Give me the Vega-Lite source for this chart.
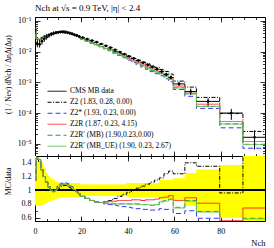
{
"$schema":"https://vega.github.io/schema/vega-lite/v6.json",
"padding":{"left":3,"top":3,"right":5,"bottom":3},
"spacing":0,
"bounds":"flush",
"config":{
 "font":"Liberation Serif",
 "view":{"stroke":"#000","strokeWidth":1},
 "axis":{"domain":false,"grid":false,"tickColor":"#000","labelColor":"#000","titleColor":"#000","labelFontSize":8,"titleFontSize":8,"titleFontWeight":"normal","tickWidth":0.8,"labelFlush":false},
 "legend":{"labelFontSize":7.5,"labelColor":"#000","symbolType":"stroke","symbolSize":361,"rowPadding":0,"clipHeight":10.5,"labelOffset":3,"padding":0}
},
"resolve":{"scale":{"color":"independent","strokeDash":"independent","strokeWidth":"independent"}},
"datasets":{
"main":[
{"lo":-0.5,"hi":0.5,"x":0,"d":0.0513,"dlo":0.04,"dhi":0.0821,"z2":0.059,"z2s":0.059,"z2r":0.059,"mb":0.059,"mbue":0.059},
{"lo":0.5,"hi":1.5,"x":1,"d":0.01778,"dlo":0.01387,"dhi":0.02525,"z2":0.02578,"z2s":0.02614,"z2r":0.02614,"mb":0.02614,"mbue":0.02614},
{"lo":1.5,"hi":2.5,"x":2,"d":0.01738,"dlo":0.01356,"dhi":0.02468,"z2":0.02468,"z2s":0.0252,"z2r":0.0252,"mb":0.0252,"mbue":0.0252},
{"lo":2.5,"hi":3.5,"x":3,"d":0.02188,"dlo":0.01707,"dhi":0.03063,"z2":0.02844,"z2s":0.02844,"z2r":0.02844,"mb":0.02844,"mbue":0.02844},
{"lo":3.5,"hi":4.5,"x":4,"d":0.0263,"dlo":0.02104,"dhi":0.03472,"z2":0.03156,"z2s":0.03156,"z2r":0.03156,"mb":0.03156,"mbue":0.03156},
{"lo":4.5,"hi":5.5,"x":5,"d":0.0302,"dlo":0.02476,"dhi":0.03775,"z2":0.03382,"z2s":0.03382,"z2r":0.03382,"mb":0.03382,"mbue":0.03382},
{"lo":5.5,"hi":6.5,"x":6,"d":0.03388,"dlo":0.02846,"dhi":0.04066,"z2":0.03557,"z2s":0.03557,"z2r":0.03557,"mb":0.03557,"mbue":0.03557},
{"lo":6.5,"hi":7.5,"x":7,"d":0.03715,"dlo":0.03158,"dhi":0.04347,"z2":0.03715,"z2s":0.03715,"z2r":0.03715,"mb":0.03715,"mbue":0.03715},
{"lo":7.5,"hi":8.5,"x":8,"d":0.03981,"dlo":0.03424,"dhi":0.04578,"z2":0.03901,"z2s":0.03901,"z2r":0.03901,"mb":0.03901,"mbue":0.03901},
{"lo":8.5,"hi":9.5,"x":9,"d":0.04169,"dlo":0.03669,"dhi":0.04669,"z2":0.04169,"z2s":0.04169,"z2r":0.04169,"mb":0.04169,"mbue":0.04169},
{"lo":9.5,"hi":10.5,"x":10,"d":0.04266,"dlo":0.03797,"dhi":0.04735,"z2":0.04351,"z2s":0.04522,"z2r":0.04437,"mb":0.04437,"mbue":0.04437},
{"lo":10.5,"hi":11.5,"x":11,"d":0.04365,"dlo":0.03929,"dhi":0.04802,"z2":0.04583,"z2s":0.04758,"z2r":0.04671,"mb":0.04671,"mbue":0.04671},
{"lo":11.5,"hi":12.5,"x":12,"d":0.04365,"dlo":0.03929,"dhi":0.04802,"z2":0.04671,"z2s":0.04845,"z2r":0.04758,"mb":0.04758,"mbue":0.04758},
{"lo":12.5,"hi":13.5,"x":13,"d":0.04266,"dlo":0.03839,"dhi":0.04693,"z2":0.04565,"z2s":0.04735,"z2r":0.0465,"mb":0.0465,"mbue":0.0465},
{"lo":13.5,"hi":14.5,"x":14,"d":0.04169,"dlo":0.03752,"dhi":0.04586,"z2":0.04419,"z2s":0.04586,"z2r":0.04503,"mb":0.04503,"mbue":0.04503},
{"lo":14.5,"hi":15.5,"x":15,"d":0.03981,"dlo":0.03583,"dhi":0.04379,"z2":0.0414,"z2s":0.04299,"z2r":0.0422,"mb":0.0422,"mbue":0.0422},
{"lo":15.5,"hi":16.5,"x":16,"d":0.03802,"dlo":0.03422,"dhi":0.04182,"z2":0.03878,"z2s":0.03992,"z2r":0.03954,"mb":0.03954,"mbue":0.03954},
{"lo":16.5,"hi":17.5,"x":17,"d":0.03548,"dlo":0.03193,"dhi":0.03903,"z2":0.03583,"z2s":0.03583,"z2r":0.03583,"mb":0.03583,"mbue":0.03583},
{"lo":17.5,"hi":18.5,"x":18,"d":0.03388,"dlo":0.03049,"dhi":0.03727,"z2":0.0332,"z2s":0.0332,"z2r":0.0332,"mb":0.0332,"mbue":0.0332},
{"lo":18.5,"hi":19.5,"x":19,"d":0.03162,"dlo":0.02846,"dhi":0.03478,"z2":0.03004,"z2s":0.03004,"z2r":0.03004,"mb":0.03004,"mbue":0.03004},
{"lo":19.5,"hi":21.5,"x":20.5,"d":0.02884,"dlo":0.02653,"dhi":0.03115,"z2":0.02624,"z2s":0.02624,"z2r":0.02624,"mb":0.02624,"mbue":0.02624},
{"lo":21.5,"hi":23.5,"x":22.5,"d":0.0257,"dlo":0.02364,"dhi":0.02776,"z2":0.02262,"z2s":0.02262,"z2r":0.02262,"mb":0.02262,"mbue":0.02262},
{"lo":23.5,"hi":25.5,"x":24.5,"d":0.02291,"dlo":0.02108,"dhi":0.02474,"z2":0.01947,"z2s":0.01947,"z2r":0.01947,"mb":0.01947,"mbue":0.01947},
{"lo":25.5,"hi":27.5,"x":26.5,"d":0.02042,"dlo":0.01879,"dhi":0.02205,"z2":0.01695,"z2s":0.01695,"z2r":0.01695,"mb":0.01695,"mbue":0.01695},
{"lo":27.5,"hi":29.5,"x":28.5,"d":0.01778,"dlo":0.01636,"dhi":0.0192,"z2":0.01458,"z2s":0.01458,"z2r":0.01458,"mb":0.01458,"mbue":0.01458},
{"lo":29.5,"hi":31.5,"x":30.5,"d":0.01549,"dlo":0.01425,"dhi":0.01673,"z2":0.01286,"z2s":0.01239,"z2r":0.01286,"mb":0.01255,"mbue":0.01255},
{"lo":31.5,"hi":33.5,"x":32.5,"d":0.01349,"dlo":0.01241,"dhi":0.01457,"z2":0.01147,"z2s":0.01066,"z2r":0.01133,"mb":0.01093,"mbue":0.01093},
{"lo":33.5,"hi":35.5,"x":34.5,"d":0.01148,"dlo":0.01056,"dhi":0.0124,"z2":0.0101,"z2s":0.00895,"z2r":0.00964,"mb":0.00918,"mbue":0.00918},
{"lo":35.5,"hi":37.5,"x":36.5,"d":0.00977,"dlo":0.00899,"dhi":0.01055,"z2":0.00889,"z2s":0.00752,"z2r":0.0083,"mb":0.00782,"mbue":0.00782},
{"lo":37.5,"hi":39.5,"x":38.5,"d":0.00832,"dlo":0.00765,"dhi":0.00899,"z2":0.00782,"z2s":0.00632,"z2r":0.00707,"mb":0.00666,"mbue":0.00666},
{"lo":39.5,"hi":41.5,"x":40.5,"d":0.00708,"dlo":0.00637,"dhi":0.00779,"z2":0.00687,"z2s":0.00531,"z2r":0.00602,"mb":0.00566,"mbue":0.00566},
{"lo":41.5,"hi":43.5,"x":42.5,"d":0.00603,"dlo":0.00543,"dhi":0.00663,"z2":0.00603,"z2s":0.00446,"z2r":0.00519,"mb":0.00482,"mbue":0.00482},
{"lo":43.5,"hi":45.5,"x":44.5,"d":0.00513,"dlo":0.00462,"dhi":0.00564,"z2":0.00528,"z2s":0.00374,"z2r":0.00441,"mb":0.0041,"mbue":0.00405},
{"lo":45.5,"hi":47.5,"x":46.5,"d":0.00437,"dlo":0.00393,"dhi":0.00481,"z2":0.00463,"z2s":0.00315,"z2r":0.00371,"mb":0.00345,"mbue":0.00345},
{"lo":47.5,"hi":49.5,"x":48.5,"d":0.00372,"dlo":0.00335,"dhi":0.00409,"z2":0.00405,"z2s":0.00268,"z2r":0.0032,"mb":0.00294,"mbue":0.00294},
{"lo":49.5,"hi":51.5,"x":50.5,"d":0.00316,"dlo":0.00284,"dhi":0.00348,"z2":0.00354,"z2s":0.00224,"z2r":0.00272,"mb":0.00246,"mbue":0.00246},
{"lo":51.5,"hi":53.5,"x":52.5,"d":0.00269,"dlo":0.00242,"dhi":0.00296,"z2":0.00309,"z2s":0.00191,"z2r":0.00234,"mb":0.00213,"mbue":0.00213},
{"lo":53.5,"hi":55.5,"x":54.5,"d":0.00224,"dlo":0.00195,"dhi":0.00258,"z2":0.00264,"z2s":0.00164,"z2r":0.00199,"mb":0.00188,"mbue":0.00186},
{"lo":55.5,"hi":57.5,"x":56.5,"d":0.00182,"dlo":0.00158,"dhi":0.00209,"z2":0.00226,"z2s":0.00131,"z2r":0.00164,"mb":0.00155,"mbue":0.00153},
{"lo":57.5,"hi":59.5,"x":58.5,"d":0.00145,"dlo":0.00126,"dhi":0.00167,"z2":0.00186,"z2s":0.00104,"z2r":0.00133,"mb":0.00126,"mbue":0.00125},
{"lo":59.5,"hi":64.5,"x":62,"d":0.000891,"dlo":0.000757,"dhi":0.001042,"z2":0.0011,"z2s":0.000588,"z2r":0.000757,"mb":0.000668,"mbue":0.000659},
{"lo":64.5,"hi":69.5,"x":67,"d":0.000501,"dlo":0.000391,"dhi":0.000626,"z2":0.000701,"z2s":0.000351,"z2r":0.000446,"mb":0.000426,"mbue":0.000421},
{"lo":69.5,"hi":79.5,"x":74.5,"d":0.00024,"dlo":0.000166,"dhi":0.000312,"z2":0.000324,"z2s":0.000142,"z2r":0.000194,"mb":0.000166,"mbue":0.000163},
{"lo":79.5,"hi":89.5,"x":84.5,"d":0.0001,"dlo":0.00006,"dhi":0.000137,"z2":0.000096,"z2s":0.000033,"z2r":0.000053,"mb":0.000044,"mbue":0.000044},
{"lo":89.5,"hi":99.5,"x":94.5,"d":0.0000162,"dlo":0.0000065,"dhi":0.0000275,"z2":0.0000251,"z2s":0.00000713,"z2r":0.0000118,"mb":0.00000956,"mbue":0.0000094},
{"lo":99.5,"z2":0.0000251,"z2s":0.00000713,"z2r":0.0000118,"mb":0.00000956,"mbue":0.0000094}
],
"ratio":[
{"lo":-0.5,"hi":0.5,"blo":0.78,"bhi":1.6,"z2":1.15,"z2s":1.15,"z2r":1.15,"mb":1.15,"mbue":1.15},
{"lo":0.5,"hi":1.5,"blo":0.78,"bhi":1.42,"z2":1.45,"z2s":1.47,"z2r":1.47,"mb":1.47,"mbue":1.47},
{"lo":1.5,"hi":2.5,"blo":0.78,"bhi":1.42,"z2":1.42,"z2s":1.45,"z2r":1.45,"mb":1.45,"mbue":1.45},
{"lo":2.5,"hi":3.5,"blo":0.78,"bhi":1.4,"z2":1.3,"z2s":1.3,"z2r":1.3,"mb":1.3,"mbue":1.3},
{"lo":3.5,"hi":4.5,"blo":0.8,"bhi":1.32,"z2":1.2,"z2s":1.2,"z2r":1.2,"mb":1.2,"mbue":1.2},
{"lo":4.5,"hi":5.5,"blo":0.82,"bhi":1.25,"z2":1.12,"z2s":1.12,"z2r":1.12,"mb":1.12,"mbue":1.12},
{"lo":5.5,"hi":6.5,"blo":0.84,"bhi":1.2,"z2":1.05,"z2s":1.05,"z2r":1.05,"mb":1.05,"mbue":1.05},
{"lo":6.5,"hi":7.5,"blo":0.85,"bhi":1.17,"z2":1.0,"z2s":1.0,"z2r":1.0,"mb":1.0,"mbue":1.0},
{"lo":7.5,"hi":8.5,"blo":0.86,"bhi":1.15,"z2":0.98,"z2s":0.98,"z2r":0.98,"mb":0.98,"mbue":0.98},
{"lo":8.5,"hi":9.5,"blo":0.88,"bhi":1.12,"z2":1.0,"z2s":1.0,"z2r":1.0,"mb":1.0,"mbue":1.0},
{"lo":9.5,"hi":10.5,"blo":0.89,"bhi":1.11,"z2":1.02,"z2s":1.06,"z2r":1.04,"mb":1.04,"mbue":1.04},
{"lo":10.5,"hi":11.5,"blo":0.9,"bhi":1.1,"z2":1.05,"z2s":1.09,"z2r":1.07,"mb":1.07,"mbue":1.07},
{"lo":11.5,"hi":12.5,"blo":0.9,"bhi":1.1,"z2":1.07,"z2s":1.11,"z2r":1.09,"mb":1.09,"mbue":1.09},
{"lo":12.5,"hi":13.5,"blo":0.9,"bhi":1.1,"z2":1.07,"z2s":1.11,"z2r":1.09,"mb":1.09,"mbue":1.09},
{"lo":13.5,"hi":14.5,"blo":0.9,"bhi":1.1,"z2":1.06,"z2s":1.1,"z2r":1.08,"mb":1.08,"mbue":1.08},
{"lo":14.5,"hi":15.5,"blo":0.9,"bhi":1.1,"z2":1.04,"z2s":1.08,"z2r":1.06,"mb":1.06,"mbue":1.06},
{"lo":15.5,"hi":16.5,"blo":0.9,"bhi":1.1,"z2":1.02,"z2s":1.05,"z2r":1.04,"mb":1.04,"mbue":1.04},
{"lo":16.5,"hi":17.5,"blo":0.9,"bhi":1.1,"z2":1.01,"z2s":1.01,"z2r":1.01,"mb":1.01,"mbue":1.01},
{"lo":17.5,"hi":18.5,"blo":0.9,"bhi":1.1,"z2":0.98,"z2s":0.98,"z2r":0.98,"mb":0.98,"mbue":0.98},
{"lo":18.5,"hi":19.5,"blo":0.9,"bhi":1.1,"z2":0.95,"z2s":0.95,"z2r":0.95,"mb":0.95,"mbue":0.95},
{"lo":19.5,"hi":21.5,"blo":0.92,"bhi":1.08,"z2":0.91,"z2s":0.91,"z2r":0.91,"mb":0.91,"mbue":0.91},
{"lo":21.5,"hi":23.5,"blo":0.92,"bhi":1.08,"z2":0.88,"z2s":0.88,"z2r":0.88,"mb":0.88,"mbue":0.88},
{"lo":23.5,"hi":25.5,"blo":0.92,"bhi":1.08,"z2":0.85,"z2s":0.85,"z2r":0.85,"mb":0.85,"mbue":0.85},
{"lo":25.5,"hi":27.5,"blo":0.92,"bhi":1.08,"z2":0.83,"z2s":0.83,"z2r":0.83,"mb":0.83,"mbue":0.83},
{"lo":27.5,"hi":29.5,"blo":0.92,"bhi":1.08,"z2":0.82,"z2s":0.82,"z2r":0.82,"mb":0.82,"mbue":0.82},
{"lo":29.5,"hi":31.5,"blo":0.92,"bhi":1.08,"z2":0.83,"z2s":0.8,"z2r":0.83,"mb":0.81,"mbue":0.81},
{"lo":31.5,"hi":33.5,"blo":0.92,"bhi":1.08,"z2":0.85,"z2s":0.79,"z2r":0.84,"mb":0.81,"mbue":0.81},
{"lo":33.5,"hi":35.5,"blo":0.92,"bhi":1.08,"z2":0.88,"z2s":0.78,"z2r":0.84,"mb":0.8,"mbue":0.8},
{"lo":35.5,"hi":37.5,"blo":0.92,"bhi":1.08,"z2":0.91,"z2s":0.77,"z2r":0.85,"mb":0.8,"mbue":0.8},
{"lo":37.5,"hi":39.5,"blo":0.92,"bhi":1.08,"z2":0.94,"z2s":0.76,"z2r":0.85,"mb":0.8,"mbue":0.8},
{"lo":39.5,"hi":41.5,"blo":0.9,"bhi":1.1,"z2":0.97,"z2s":0.75,"z2r":0.85,"mb":0.8,"mbue":0.8},
{"lo":41.5,"hi":43.5,"blo":0.9,"bhi":1.1,"z2":1.0,"z2s":0.74,"z2r":0.86,"mb":0.8,"mbue":0.8},
{"lo":43.5,"hi":45.5,"blo":0.9,"bhi":1.1,"z2":1.03,"z2s":0.73,"z2r":0.86,"mb":0.8,"mbue":0.79},
{"lo":45.5,"hi":47.5,"blo":0.9,"bhi":1.1,"z2":1.06,"z2s":0.72,"z2r":0.85,"mb":0.79,"mbue":0.79},
{"lo":47.5,"hi":49.5,"blo":0.9,"bhi":1.1,"z2":1.09,"z2s":0.72,"z2r":0.86,"mb":0.79,"mbue":0.79},
{"lo":49.5,"hi":51.5,"blo":0.9,"bhi":1.1,"z2":1.12,"z2s":0.71,"z2r":0.86,"mb":0.78,"mbue":0.78},
{"lo":51.5,"hi":53.5,"blo":0.9,"bhi":1.1,"z2":1.15,"z2s":0.71,"z2r":0.87,"mb":0.79,"mbue":0.79},
{"lo":53.5,"hi":55.5,"blo":0.87,"bhi":1.15,"z2":1.18,"z2s":0.73,"z2r":0.89,"mb":0.84,"mbue":0.83},
{"lo":55.5,"hi":57.5,"blo":0.87,"bhi":1.15,"z2":1.24,"z2s":0.72,"z2r":0.9,"mb":0.85,"mbue":0.84},
{"lo":57.5,"hi":59.5,"blo":0.87,"bhi":1.15,"z2":1.28,"z2s":0.72,"z2r":0.92,"mb":0.87,"mbue":0.86},
{"lo":59.5,"hi":64.5,"blo":0.85,"bhi":1.17,"z2":1.24,"z2s":0.66,"z2r":0.85,"mb":0.75,"mbue":0.74},
{"lo":64.5,"hi":69.5,"blo":0.78,"bhi":1.25,"z2":1.4,"z2s":0.7,"z2r":0.89,"mb":0.85,"mbue":0.84},
{"lo":69.5,"hi":79.5,"blo":0.69,"bhi":1.3,"z2":1.35,"z2s":0.59,"z2r":0.81,"mb":0.69,"mbue":0.68},
{"lo":79.5,"hi":89.5,"blo":0.6,"bhi":1.37,"z2":0.96,"z2s":0.33,"z2r":0.555,"mb":0.44,"mbue":0.44},
{"lo":89.5,"hi":99.5,"blo":0.4,"bhi":1.7,"z2":1.55,"z2s":0.44,"z2r":0.74,"mb":0.59,"mbue":0.58},
{"lo":99.5,"z2":1.55,"z2s":0.44,"z2r":0.74,"mb":0.59,"mbue":0.58}
]
},
"vconcat":[
{
 "width":230,"height":139,
 "title":{"text":"Nch at √s = 0.9 TeV, |η| < 2.4","anchor":"start","frame":"group","fontSize":9,"fontWeight":"normal","offset":4,"color":"#000"},
 "data":{"name":"main"},
 "layer":[
  {
   "transform":[{"fold":["z2","z2s","z2r","mb","mbue"],"as":["series","value"]}],
   "mark":{"type":"line","interpolate":"step-after","clip":true},
   "encoding":{
    "x":{"field":"lo","type":"quantitative","scale":{"domain":[0,99],"nice":false,"zero":false},"axis":{"orient":"bottom","values":[0,20,40,60,80],"labels":false,"tickSize":-5,"title":null}},
    "y":{"field":"value","type":"quantitative","scale":{"type":"log","domain":[0.00000398,0.135],"nice":false},"axis":{"orient":"left","values":[0.00001,0.0001,0.001,0.01,0.1],"labelExpr":"datum.value > 0.05 ? '10⁻¹' : datum.value > 0.005 ? '10⁻²' : datum.value > 0.0005 ? '10⁻³' : datum.value > 0.00005 ? '10⁻⁴' : '10⁻⁵'","tickSize":-5,"labelPadding":9,"title":"(1 / Nev) dNch / ΔηΔ(Δφ)","titleFontSize":7.5,"titleX":-23,"titleY":57}},
    "color":{"field":"series","type":"nominal","scale":{"domain":["data","z2","z2s","z2r","mb","mbue"],"range":["#000000","#000000","#3333ff","#ff3b3b","#2e9e2e","#5fc25f"]},
      "legend":{"title":null,"orient":"none","legendX":12,"legendY":69,"labelExpr":"datum.label == 'data' ? 'CMS MB data' : datum.label == 'z2' ? 'Z2 (1.83, 0.28, 0.00)' : datum.label == 'z2s' ? 'Z2* (1.93, 0.23, 0.00)' : datum.label == 'z2r' ? 'Z2R (1.87, 0.23, 4.15)' : datum.label == 'mb' ? 'Z2R′ (MB) (1.90,0.23,0.00)' : 'Z2R′ (MB_UE) (1.90, 0.23, 2.67)'"}},
    "strokeDash":{"field":"series","type":"nominal","scale":{"domain":["data","z2","z2s","z2r","mb","mbue"],"range":[[1,0],[4,1.5,1,1.5],[5,3],[1,0],[5,3],[1,0]]},
      "legend":{"title":null,"orient":"none","legendX":12,"legendY":69,"labelExpr":"datum.label == 'data' ? 'CMS MB data' : datum.label == 'z2' ? 'Z2 (1.83, 0.28, 0.00)' : datum.label == 'z2s' ? 'Z2* (1.93, 0.23, 0.00)' : datum.label == 'z2r' ? 'Z2R (1.87, 0.23, 4.15)' : datum.label == 'mb' ? 'Z2R′ (MB) (1.90,0.23,0.00)' : 'Z2R′ (MB_UE) (1.90, 0.23, 2.67)'"}},
    "strokeWidth":{"field":"series","type":"nominal","scale":{"domain":["data","z2","z2s","z2r","mb","mbue"],"range":[1,1,1,1.7,1,1.2]},
      "legend":{"title":null,"orient":"none","legendX":12,"legendY":69,"labelExpr":"datum.label == 'data' ? 'CMS MB data' : datum.label == 'z2' ? 'Z2 (1.83, 0.28, 0.00)' : datum.label == 'z2s' ? 'Z2* (1.93, 0.23, 0.00)' : datum.label == 'z2r' ? 'Z2R (1.87, 0.23, 4.15)' : datum.label == 'mb' ? 'Z2R′ (MB) (1.90,0.23,0.00)' : 'Z2R′ (MB_UE) (1.90, 0.23, 2.67)'"}}
   }
  },
  {
   "transform":[{"filter":"isValid(datum.hi)"}],
   "mark":{"type":"rule","color":"#000","strokeWidth":1,"clip":true},
   "encoding":{
    "x":{"field":"lo","type":"quantitative","scale":{"domain":[0,99],"nice":false,"zero":false},"axis":{"orient":"bottom","values":[0,5,10,15,20,25,30,35,40,45,50,55,60,65,70,75,80,85,90,95],"labels":false,"tickSize":-2.5,"title":null}},
    "x2":{"field":"hi"},
    "y":{"field":"d","type":"quantitative","scale":{"type":"log","domain":[0.00000398,0.135],"nice":false},"axis":{"orient":"left","values":[0.000005,0.000006,0.000007,0.000008,0.000009,0.00002,0.00003,0.00004,0.00005,0.00006,0.00007,0.00008,0.00009,0.0002,0.0003,0.0004,0.0005,0.0006,0.0007,0.0008,0.0009,0.002,0.003,0.004,0.005,0.006,0.007,0.008,0.009,0.02,0.03,0.04,0.05,0.06,0.07,0.08,0.09],"labels":false,"tickSize":-2.5,"title":null}}
   }
  },
  {
   "transform":[{"filter":"isValid(datum.hi)"}],
   "mark":{"type":"rule","color":"#000","strokeWidth":1,"clip":true},
   "encoding":{
    "x":{"field":"x","type":"quantitative","scale":{"domain":[0,99],"nice":false,"zero":false},"axis":{"orient":"top","values":[0,20,40,60,80],"labels":false,"tickSize":-5,"title":null}},
    "y":{"field":"dlo","type":"quantitative","scale":{"type":"log","domain":[0.00000398,0.135],"nice":false},"axis":{"orient":"right","values":[0.00001,0.0001,0.001,0.01,0.1],"labels":false,"tickSize":-5,"title":null}},
    "y2":{"field":"dhi"}
   }
  },
  {
   "transform":[{"filter":"isValid(datum.hi)"}],
   "mark":{"type":"point","filled":true,"size":7,"color":"#000","opacity":1,"clip":true},
   "encoding":{
    "x":{"field":"x","type":"quantitative","scale":{"domain":[0,99],"nice":false,"zero":false},"axis":{"orient":"top","values":[0,5,10,15,20,25,30,35,40,45,50,55,60,65,70,75,80,85,90,95],"labels":false,"tickSize":-2.5,"title":null}},
    "y":{"field":"d","type":"quantitative","scale":{"type":"log","domain":[0.00000398,0.135],"nice":false},"axis":{"orient":"right","values":[0.000005,0.000006,0.000007,0.000008,0.000009,0.00002,0.00003,0.00004,0.00005,0.00006,0.00007,0.00008,0.00009,0.0002,0.0003,0.0004,0.0005,0.0006,0.0007,0.0008,0.0009,0.002,0.003,0.004,0.005,0.006,0.007,0.008,0.009,0.02,0.03,0.04,0.05,0.06,0.07,0.08,0.09],"labels":false,"tickSize":-2.5,"title":null}}
   }
  }
 ],
 "resolve":{"axis":{"x":"independent","y":"independent"}}
},
{
 "width":230,"height":65,
 "data":{"name":"ratio"},
 "layer":[
  {
   "transform":[{"filter":"isValid(datum.hi)"}],
   "mark":{"type":"rect","color":"#ffff00","clip":true},
   "encoding":{
    "x":{"field":"lo","type":"quantitative","scale":{"domain":[0,99],"nice":false,"zero":false},"axis":{"orient":"bottom","values":[0,20,40,60,80],"tickSize":-5,"labelPadding":11,"title":"Nch","titleAnchor":"end","titlePadding":3,"titleFontSize":8.5}},
    "x2":{"field":"hi"},
    "y":{"field":"blo","type":"quantitative","scale":{"domain":[0.55,1.5],"nice":false,"zero":false},"axis":{"orient":"left","values":[0.6,0.8,1,1.2,1.4],"format":"~g","tickSize":-5,"labelPadding":9,"title":"MC/data","titleFontSize":8,"titleX":-23,"titleY":25}},
    "y2":{"field":"bhi"}
   }
  },
  {
   "transform":[{"filter":"isValid(datum.hi)"}],
   "mark":{"type":"rect","color":"#ffff00","clip":true},
   "encoding":{
    "x":{"field":"lo","type":"quantitative","scale":{"domain":[0,99],"nice":false,"zero":false},"axis":{"orient":"top","values":[0,20,40,60,80],"labels":false,"tickSize":-5,"title":null}},
    "x2":{"field":"hi"},
    "y":{"field":"blo","type":"quantitative","scale":{"domain":[0.55,1.5],"nice":false,"zero":false},"axis":{"orient":"right","values":[0.6,0.8,1,1.2,1.4],"labels":false,"tickSize":-5,"title":null}},
    "y2":{"field":"bhi"}
   }
  },
  {
   "transform":[{"filter":"isValid(datum.hi)"}],
   "mark":{"type":"rect","color":"#ffff00","clip":true},
   "encoding":{
    "x":{"field":"lo","type":"quantitative","scale":{"domain":[0,99],"nice":false,"zero":false},"axis":{"orient":"top","values":[0,5,10,15,20,25,30,35,40,45,50,55,60,65,70,75,80,85,90,95],"labels":false,"tickSize":-2.5,"title":null}},
    "x2":{"field":"hi"},
    "y":{"field":"blo","type":"quantitative","scale":{"domain":[0.55,1.5],"nice":false,"zero":false},"axis":{"orient":"right","values":[0.6,0.7,0.8,0.9,1,1.1,1.2,1.3,1.4],"labels":false,"tickSize":-2.5,"title":null}},
    "y2":{"field":"bhi"}
   }
  },
  {
   "mark":{"type":"rule","color":"#000","strokeWidth":0.8},
   "encoding":{"y":{"datum":1,"type":"quantitative","axis":null}}
  },
  {
   "transform":[{"fold":["z2","z2s","z2r","mb","mbue"],"as":["series","value"]}],
   "mark":{"type":"line","interpolate":"step-after","clip":true},
   "encoding":{
    "x":{"field":"lo","type":"quantitative","scale":{"domain":[0,99],"nice":false,"zero":false},"axis":{"orient":"bottom","values":[0,5,10,15,20,25,30,35,40,45,50,55,60,65,70,75,80,85,90,95],"labels":false,"tickSize":-2.5,"title":null}},
    "y":{"field":"value","type":"quantitative","scale":{"domain":[0.55,1.5],"nice":false,"zero":false},"axis":{"orient":"left","values":[0.6,0.7,0.8,0.9,1,1.1,1.2,1.3,1.4],"labels":false,"tickSize":-2.5,"title":null}},
    "color":{"field":"series","type":"nominal","scale":{"domain":["data","z2","z2s","z2r","mb","mbue"],"range":["#000000","#000000","#3333ff","#ff2020","#2e9e2e","#5fc25f"]},"legend":null},
    "strokeDash":{"field":"series","type":"nominal","scale":{"domain":["data","z2","z2s","z2r","mb","mbue"],"range":[[1,0],[4,1.5,1,1.5],[5,3],[1,0],[5,3],[1,0]]},"legend":null},
    "strokeWidth":{"field":"series","type":"nominal","scale":{"domain":["data","z2","z2s","z2r","mb","mbue"],"range":[1,1,1,1.2,1,1.2]},"legend":null}
   }
  }
 ],
 "resolve":{"axis":{"x":"independent","y":"independent"}}
}
]
}
